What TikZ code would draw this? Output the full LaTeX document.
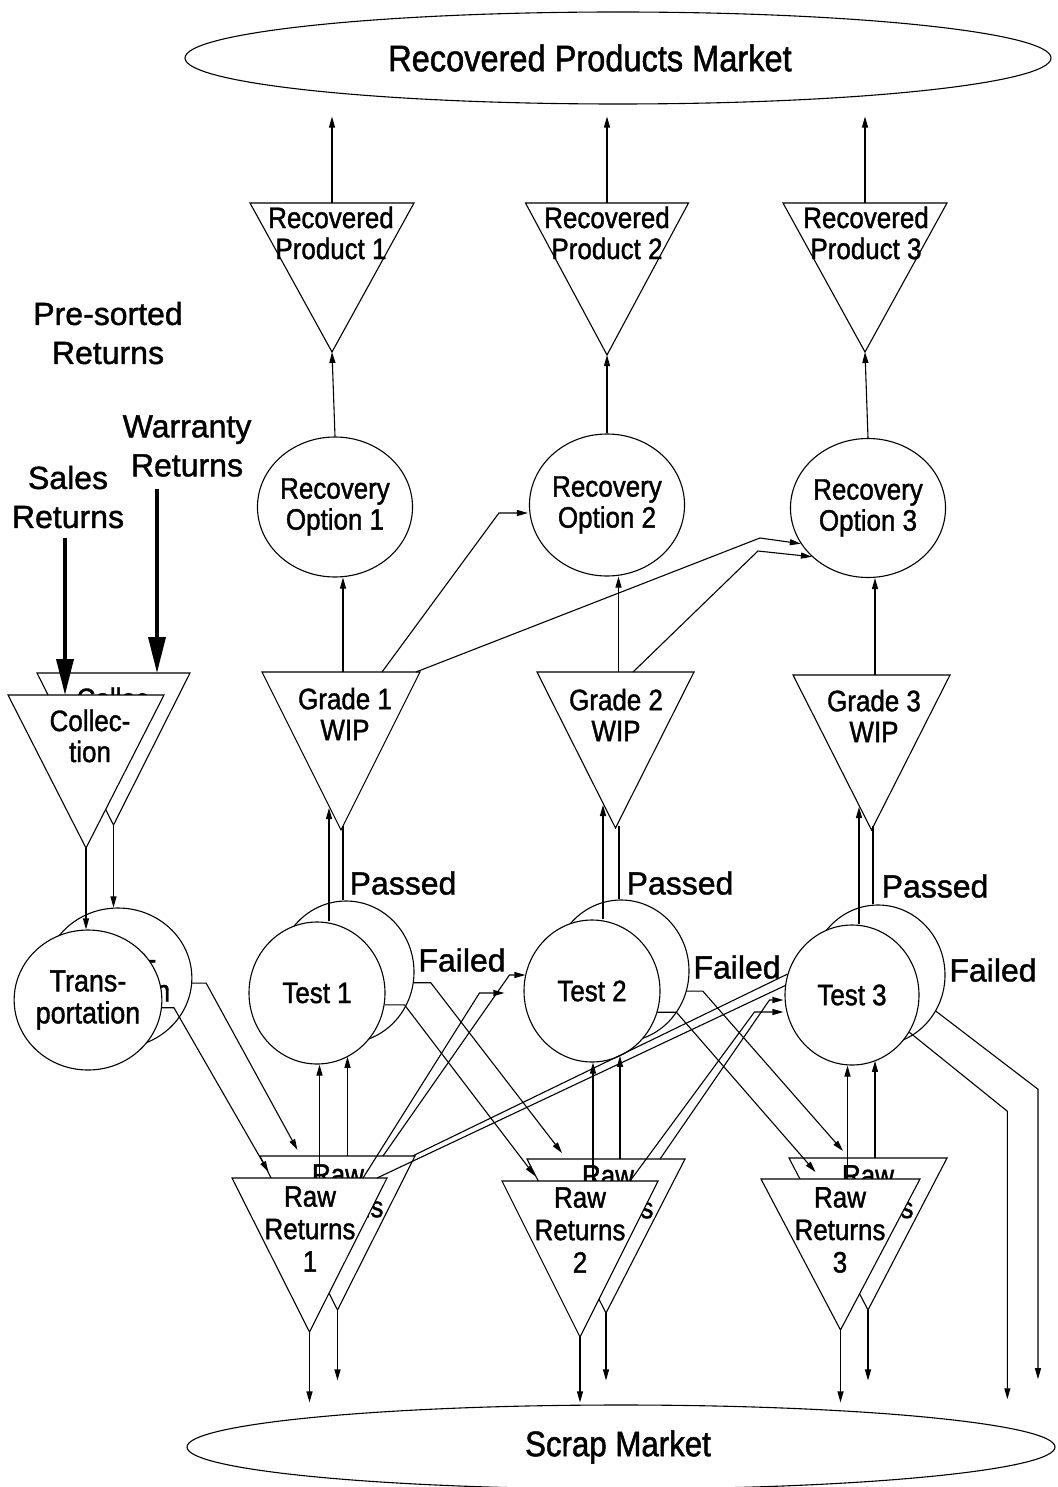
\documentclass[tikz,border=0pt]{standalone}
\usepackage{fontspec}
\setmainfont{Liberation Sans}[FakeBold=1.3]
\newfontfamily\condfont{Liberation Sans}[FakeStretch=0.88,FakeBold=1.3]
\usetikzlibrary{shapes.geometric,arrows.meta,calc}

% downward-pointing triangle: name, centre x, top y, half width, height
\newcommand\invtri[5]{%
  \draw[lw,fill=white] (#2-#4,#3) -- (#2+#4,#3) -- (#2,#3+#5) -- cycle;
  \coordinate (#1-t) at (#2,#3);
  \coordinate (#1-l) at (#2-#4,#3);
  \coordinate (#1-r) at (#2+#4,#3);
  \coordinate (#1-a) at (#2,#3+#5);
}

\tikzset{
  lw/.style={line width=1.1pt},
  arr/.style={lw,-{Triangle[length=11pt,width=6pt]}},
  bigarr/.style={line width=3.5pt,-{Triangle[length=36pt,width=17pt]}},
  oval/.style={ellipse,draw,lw,fill=white,inner sep=0pt},
  lbl/.style={align=center,font=\condfont\fontsize{29.5}{31}\selectfont,inner sep=0pt},
  rrlbl/.style={align=center,font=\condfont\fontsize{29.5}{32.5}\selectfont,inner sep=0pt},
  biglbl/.style={align=center,font=\fontsize{32}{39}\selectfont,inner sep=0pt},
  testc/.style={oval,minimum width=136pt,minimum height=142pt,lbl},
  optc/.style={oval,lbl},
  trc/.style={oval,minimum width=136pt,minimum height=140pt,lbl,
    font=\condfont\fontsize{30.5}{32}\selectfont},
}

\begin{document}
\begin{tikzpicture}[x=1pt,y=-1pt]
\useasboundingbox (0,0) rectangle (1057,1487);

% markets
\node[oval,minimum width=866pt,minimum height=92pt,font=\condfont\fontsize{37}{40}\selectfont]
  (RPM) at (618,58) {\hspace*{-56pt}Recovered Products Market};
\node[oval,minimum width=868pt,minimum height=84pt,font=\condfont\fontsize{35.5}{40}\selectfont]
  (SM) at (621,1447) {\hspace*{-6pt}Scrap Market};

% free labels
\node[biglbl] (presort) at (108,333) {Pre-sorted\\Returns};
\node[biglbl] (sales) at (68,497) {Sales\\Returns};
\node[biglbl] (warr) at (187,446) {Warranty\\Returns};

% collection (stacked)
\invtri{CB}{113.5}{673}{76.5}{152}
\node[lbl] at (117,714) {Collec-\\tion};
\invtri{CF}{86}{695}{78}{153}
\node[lbl] (CF) at (90,736) {Collec-\\tion};

% transportation (stacked)
\node[trc] (TB) at (118,978) {Trans-\\portation};
\node[trc] (TF) at (88,1000) {Trans-\\portation};

% tests (stacked)
\node[testc] (T1b) at (346,972) {};
\node[testc] (T1f) at (317,993) {Test 1};
\node[testc] (T2b) at (621,971) {};
\node[testc] (T2f) at (592,991) {Test 2};
\node[testc,minimum width=134pt,minimum height=140pt] (T3b) at (878,975) {};
\node[testc,minimum width=134pt,minimum height=140pt] (T3f) at (852,995) {Test 3};

% raw returns (stacked)
\invtri{RR1b}{337.5}{1156}{77.5}{154}
\node[rrlbl] at (338,1207) {Raw\\Returns\\1};
\invtri{RR1f}{309.5}{1178}{77.5}{154}
\node[rrlbl] (RR1) at (310,1229) {Raw\\Returns\\1};
\invtri{RR2b}{606}{1159}{79}{154}
\node[rrlbl] at (608,1208) {Raw\\Returns\\2};
\invtri{RR2f}{580}{1181}{78}{156}
\node[rrlbl] (RR2) at (580,1230) {Raw\\Returns\\2};
\invtri{RR3b}{868}{1158}{79}{152}
\node[rrlbl] at (868,1208) {Raw\\Returns\\3};
\invtri{RR3f}{840.5}{1179}{79.5}{151}
\node[rrlbl] (RR3) at (840,1230) {Raw\\Returns\\3};

% grades
\invtri{G1}{341}{672}{79}{158}
\node[lbl] (G1) at (345,714) {Grade 1\\WIP};
\invtri{G2}{615.5}{672}{78.5}{156}
\node[lbl] (G2) at (616,715) {Grade 2\\WIP};
\invtri{G3}{871.5}{675}{78.5}{155}
\node[lbl] (G3) at (874,716) {Grade 3\\WIP};

% recovery options
\node[optc,minimum width=126pt,minimum height=140pt] (RO1) at (335,507) {Recovery\\Option 1};
\node[optc,minimum width=126pt,minimum height=142pt] (RO2) at (607,505) {Recovery\\Option 2};
\node[optc,minimum width=124pt,minimum height=139pt] (RO3) at (868,508) {Recovery\\Option 3};

% recovered products
\invtri{P1}{332}{203}{82}{149}
\node[lbl] (P1) at (331,233) {Recovered\\Product 1};
\invtri{P2}{607}{203}{81.5}{152}
\node[lbl] (P2) at (607,233) {Recovered\\Product 2};
\invtri{P3}{865}{203}{82}{149}
\node[lbl] (P3) at (866,233) {Recovered\\Product 3};

% passed / failed
\node[biglbl] (pass1) at (403,883) {Passed};
\node[biglbl] (pass2) at (680,883) {Passed};
\node[biglbl] (pass3) at (935,886) {Passed};
\node[biglbl] (fail1) at (462,960) {Failed};
\node[biglbl] (fail2) at (737,967) {Failed};
\node[biglbl] (fail3) at (993,970) {Failed};

% ---- flows ----
% inputs
\draw[bigarr] ([xshift=-3pt,yshift=-10pt]sales.south) -- ([xshift=-21pt]CF-t);
\draw[bigarr] ([xshift=-30pt,yshift=-12pt]warr.south) -- ([xshift=43.5pt]CB-t);

% collection -> transportation
\draw[arr] (CF-a) -- (CF-a |- TF.north);
\draw[arr] (CB-a) -- (CB-a |- TB.north);

% transportation -> raw returns 1
\draw[arr] (TB.-4) -- ++(14,0) -- ([xshift=-40pt,yshift=6pt]RR1b-t);
\draw[arr] (TF.-6) -- ++(12,0) -- ([xshift=-41pt,yshift=6pt]RR1f-t);

% failed -> next raw returns
\draw[arr] (T1b.-9) -- ++(17,0) -- ([xshift=-44pt,yshift=6pt]RR2b-t);
\draw[arr] (T1f.-10) -- ++(20,0) -- ([xshift=-45pt,yshift=5pt]RR2f-t);
\draw[arr] (T2b.-17) -- ++(16,0) -- ([xshift=-25pt,yshift=7pt]RR3b-t);
\draw[arr] (T2f.-18) -- ++(19,0) -- ([xshift=-25pt,yshift=7pt]RR3f-t);
\draw[arr] (T3b.-32.5) -- ++(102,78) -- ++(0,290);
\draw[arr] (T3f.-33) -- ++(98,79) -- ++(0,288);

% raw returns -> scrap
\foreach \r in {RR1,RR2,RR3}{
  \draw[arr] (\r f-a) -- ([yshift=2pt]SM.north -| \r f-a);
  \draw[arr] (\r b-a) -- ([yshift=24pt]SM.north -| \r b-a);
}

% raw returns -> tests (same grade)
\draw[arr] ([xshift=10pt]RR1f-t) -- ([xshift=10pt]RR1f-t |- T1f.south);
\draw[arr] ([xshift=10pt]RR1b-t) -- ([xshift=10pt]RR1b-t |- T1f.-64.5);
\draw[arr] ([xshift=13pt]RR2f-t) -- ([xshift=13pt]RR2f-t |- T2f.south);
\draw[arr] ([xshift=14pt]RR2b-t) -- ([xshift=14pt]RR2b-t |- T2f.-66.6);
\draw[arr] ([xshift=7pt]RR3f-t) -- ([xshift=7pt]RR3f-t |- T3f.south);
\draw[arr] ([xshift=7pt]RR3b-t) -- ([xshift=7pt]RR3b-t |- T3f.-70.7);

% raw returns -> tests (higher grade)
\draw[arr] ([xshift=45.5pt]RR1b-t) -- ([xshift=-14pt,yshift=16pt]T2f.west) -- ([xshift=2pt,yshift=16pt]T2f.west);
\draw[arr] ([xshift=53.5pt]RR1f-t) -- ([xshift=-44pt,yshift=-2pt]T2f.west) -- ([xshift=-19pt,yshift=-2pt]T2f.west);
\draw[arr] ([xshift=54pt]RR2b-t) -- ([xshift=-15pt,yshift=-5pt]T3f.west) -- ([xshift=-1pt,yshift=-5pt]T3f.west);
\draw[arr] ([xshift=50pt]RR2f-t) -- ([xshift=-30pt,yshift=-17pt]T3f.west) -- ([xshift=-1pt,yshift=-17pt]T3f.west);
\draw[lw] ([xshift=75pt]RR1b-t) -- (T3f.162);
\draw[lw] ([xshift=67.5pt]RR1f-t) -- (T3f.172);

% passed -> grades
\draw[arr] ([xshift=12pt]T1f.north) -- ([xshift=12pt,yshift=22pt]T1f.north |- G1-a);
\draw[lw] ([xshift=-3pt]T1b.north) -- ([xshift=-3pt,yshift=4pt]T1b.north |- G1-a);
\draw[arr] ([xshift=11pt]T2f.north) -- ([xshift=11pt,yshift=23pt]T2f.north |- G2-a);
\draw[lw] ([xshift=-2pt]T2b.north) -- ([xshift=-2pt,yshift=2pt]T2b.north |- G2-a);
\draw[arr] ([xshift=7pt]T3f.north) -- ([xshift=7pt,yshift=23pt]T3f.north |- G3-a);
\draw[lw] ([xshift=-5pt]T3b.north) -- ([xshift=-5pt,yshift=4pt]T3b.north |- G3-a);

% grades -> recovery options
\draw[arr] ([xshift=2pt]G1-t) -- ([xshift=2pt]G1-t |- RO1.south);
\draw[arr] ([xshift=41pt]G1-t) -- ([xshift=-30pt,yshift=-8pt]RO2.west) -- ([xshift=-1pt,yshift=-8pt]RO2.west);
\draw[arr] ([xshift=-4pt]G1-r) -- ([xshift=-30pt,yshift=-30pt]RO3.west) -- (RO3.208);
\draw[arr] ([xshift=3pt]G2-t) -- ([xshift=3pt]G2-t |- RO2.south);
\draw[arr] ([xshift=17.5pt]G2-t) -- ([xshift=-32pt,yshift=-43pt]RO3.west) -- (RO3.221);
\draw[arr] ([xshift=3.5pt]G3-t) -- ([xshift=3.5pt]G3-t |- RO3.south);

% recovery options -> products -> market
\draw[arr] (RO1.north) -- (P1-a);
\draw[arr] (RO2.north) -- (P2-a);
\draw[arr] (RO3.north) -- (P3-a);
\draw[arr] (P1-t) -- ([yshift=-12pt]RPM.south -| P1-t);
\draw[arr] (P2-t) -- ([yshift=-12pt]RPM.south -| P2-t);
\draw[arr] (P3-t) -- ([yshift=-12pt]RPM.south -| P3-t);
\end{tikzpicture}
\end{document}
